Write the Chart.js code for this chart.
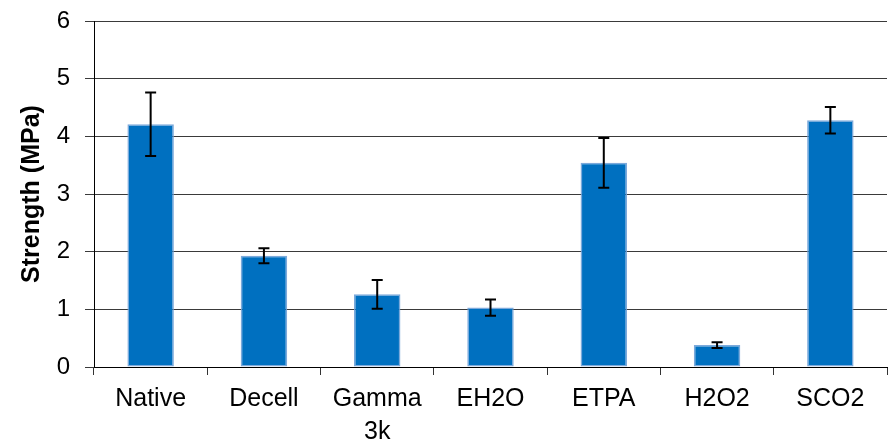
<!DOCTYPE html>
<html>
<head>
<meta charset="utf-8">
<script src="https://cdn.jsdelivr.net/npm/chart.js@4"></script>
<style>
  html, body { margin: 0; padding: 0; background: #ffffff; }
  #wrap { width: 889px; height: 439px; }
</style>
</head>
<body>
<div id="wrap"><canvas id="c" width="889" height="439"></canvas></div>
<script>
const categories = ['Native', 'Decell', ['Gamma', '3k'], 'EH2O', 'ETPA', 'H2O2', 'SCO2'];
const strength = [4.21, 1.93, 1.26, 1.03, 3.54, 0.38, 4.28];
const strengthError = [0.55, 0.13, 0.25, 0.14, 0.43, 0.05, 0.23];
const yTicks = [0, 1, 2, 3, 4, 5, 6];
const yTitle = 'Strength (MPa)';

const errorBarPlugin = {
  id: 'errorBars',
  afterDatasetsDraw(chart) {
    const meta = chart.getDatasetMeta(0);
    const y = chart.scales.y;
    const ctx = chart.ctx;
    ctx.save();
    ctx.strokeStyle = '#000000';
    ctx.lineWidth = 2;
    meta.data.forEach((bar, i) => {
      const v = strength[i], e = strengthError[i];
      const yHi = y.getPixelForValue(v + e);
      const yLo = y.getPixelForValue(v - e);
      const x = bar.x;
      const cap = 5.5;
      ctx.beginPath();
      ctx.moveTo(x, yHi); ctx.lineTo(x, yLo);
      ctx.moveTo(x - cap, yHi); ctx.lineTo(x + cap, yHi);
      ctx.moveTo(x - cap, yLo); ctx.lineTo(x + cap, yLo);
      ctx.stroke();
    });
    ctx.restore();
  }
};

new Chart(document.getElementById('c'), {
  type: 'bar',
  data: {
    labels: categories,
    datasets: [{
      data: strength,
      backgroundColor: '#0070C0',
      borderColor: 'rgba(110,160,215,0.9)',
      borderWidth: 1.5,
      borderSkipped: false,
      categoryPercentage: 1.0,
      barPercentage: 0.41
    }]
  },
  options: {
    responsive: false,
    devicePixelRatio: 1,
    animation: false,
    layout: { padding: { top: 21, right: 2, left: 0, bottom: 0 } },
    plugins: { legend: { display: false }, tooltip: { enabled: false } },
    scales: {
      x: {
        offset: true,
        grid: { drawOnChartArea: false, drawTicks: true, tickLength: 8, color: '#333333', offset: true },
        border: { color: '#000000', width: 1 },
        ticks: {
          color: '#000000',
          font: { family: '"Liberation Sans", Arial, sans-serif', size: 25, lineHeight: 1.3 },
          padding: 8,
          maxRotation: 0,
          autoSkip: false
        },
        afterFit(scale) { scale.height = 72; scale.paddingLeft = 0; scale.paddingRight = 0; }
      },
      y: {
        min: 0,
        max: 6,
        afterBuildTicks(scale) { scale.ticks = yTicks.map(v => ({ value: v })); },
        grid: { color: '#3a3a3a', lineWidth: 1, tickLength: 9 },
        border: { color: '#000000', width: 1 },
        ticks: {
          color: '#000000',
          font: { family: '"Liberation Sans", Arial, sans-serif', size: 24 },
          padding: 15
        },
        title: {
          display: true,
          text: yTitle,
          color: '#000000',
          font: { family: '"Liberation Sans", Arial, sans-serif', size: 25, weight: 'bold', lineHeight: 1.2 },
          padding: { top: 17, bottom: 0 }
        },
        afterFit(scale) { scale.width = 94; scale.paddingTop = 0; scale.paddingBottom = 0; }
      }
    }
  },
  plugins: [errorBarPlugin]
});
</script>
</body>
</html>
